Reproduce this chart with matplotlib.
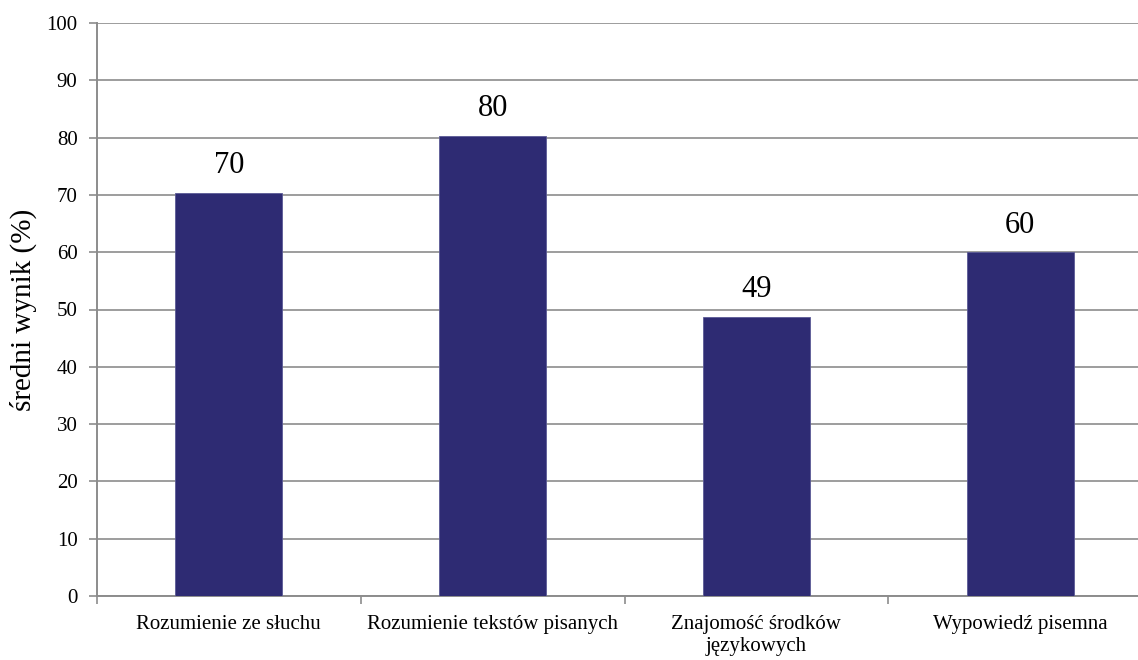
import matplotlib
matplotlib.use("Agg")
import matplotlib.pyplot as plt
import numpy as np

categories = ["Rozumienie ze słuchu", "Rozumienie tekstów pisanych",
              "Znajomość środków\njęzykowych", "Wypowiedź pisemna"]
values = [70.4, 80.3, 48.7, 60.0]
value_labels = ["70", "80", "49", "60"]
y_ticks = [0, 10, 20, 30, 40, 50, 60, 70, 80, 90, 100]
y_label = "średni wynik (%)"

plt.rcParams['font.family'] = ['Liberation Serif', 'DejaVu Serif']

W, H = 1138, 660
fig = plt.figure(figsize=(W / 100, H / 100), dpi=100)
ax_left, ax_right = 97, 97 + 4 * 263.75
ax_top, ax_bottom = 23, 596
ax = fig.add_axes([ax_left / W, (H - ax_bottom) / H,
                   (ax_right - ax_left) / W, (ax_bottom - ax_top) / H])

grid_color = "#8c8c8c"
bar_color = "#2e2b73"

x = np.arange(len(categories))
bars = ax.bar(x, values, width=0.405, color=bar_color, edgecolor="#5b5a96",
              linewidth=0.6, zorder=3)

for b, lab in zip(bars, value_labels):
    ax.annotate(lab, (b.get_x() + b.get_width() / 2, b.get_height()),
                xytext=(0, 9), textcoords="offset points",
                ha="center", va="bottom", fontsize=22, color="black")

ax.set_xlim(-0.5, len(categories) - 0.5)
ax.set_ylim(0, 100)
ax.set_yticks(y_ticks)
ax.set_yticklabels([str(t) for t in y_ticks], fontsize=15)
ax.yaxis.grid(True, color=grid_color, linewidth=1.2, zorder=0)
ax.set_axisbelow(True)

ax.set_xticks(x)
ax.set_xticklabels(categories, fontsize=15, linespacing=1.2)
ax.tick_params(axis="x", which="major", length=0, pad=14)
ax.set_xticks(np.arange(-0.5, len(categories) + 0.5, 1), minor=True)
ax.tick_params(axis="x", which="minor", length=6, width=1.2, color=grid_color,
               direction="out")
ax.tick_params(axis="y", length=6, width=1.2, color=grid_color, pad=8)

for s in ["top", "right"]:
    ax.spines[s].set_visible(False)
for s in ["left", "bottom"]:
    ax.spines[s].set_color(grid_color)
    ax.spines[s].set_linewidth(1.4)

ax.set_ylabel(y_label, fontsize=21, labelpad=7)

fig.savefig("out.png", dpi=100)
